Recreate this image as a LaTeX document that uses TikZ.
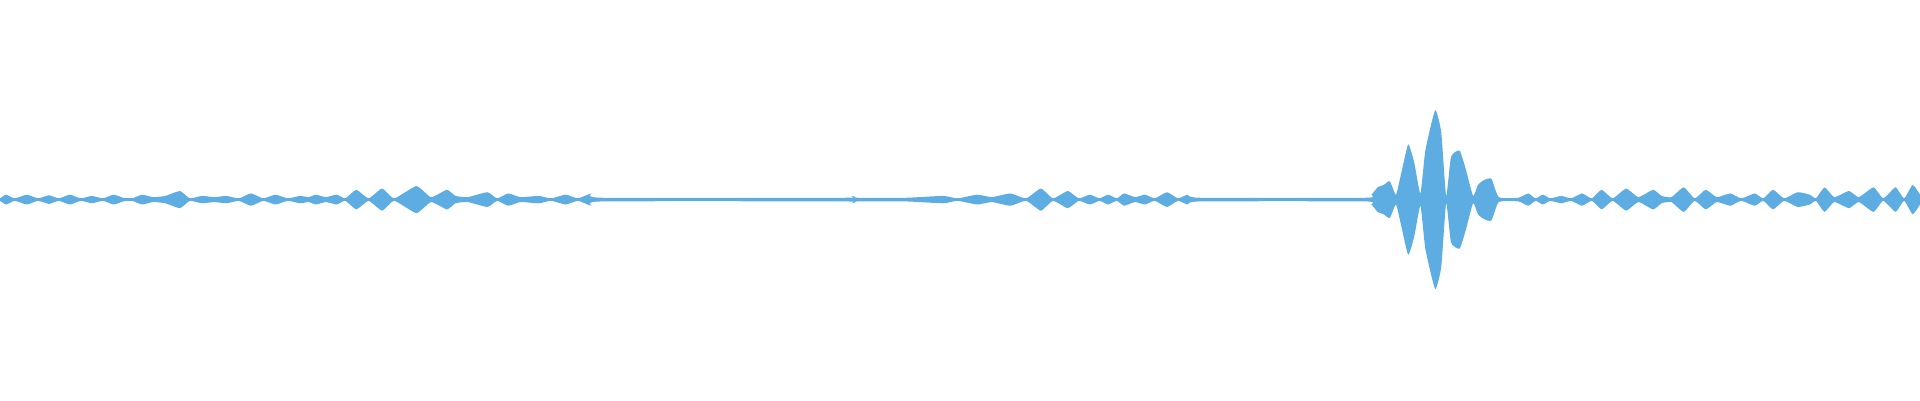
\documentclass[tikz,border=0pt]{standalone}
\begin{document}
\begin{tikzpicture}[x=1pt,y=1pt]
\definecolor{wave}{HTML}{5DADE2}
\useasboundingbox (0,-164) rectangle (1568,163);
\newcommand\envpts{(0,1)(5,4)(12,1)(22,4)(31,1)(40,3.5)(48,1)(57,4)(66,1)(75,3)(84,1)(93,4)(102,1)(108,1)(116,4)(125,2)(135,3)(147,7)(155,1)(165,3)(175,2)(185,3)(195,1)(205,5)(215,1)(225,4)(235,1)(245,3)(252,2)(258,4)(266,2)(275,4)(282,1)(291,8)(301,1)(312,9)(322,1)(340,11)(352,2)(365,8)(372,3)(382,2)(398,6)(406,1)(415,5)(425,2)(440,3)(450,1)(462,4)(472,1)(483,5)(492,1.5)(690,1.5)(695,3)(700,1.5)(740,1.5)(770,3)(782,1)(798,4)(810,2)(825,5)(838,1)(850,9)(860,1)(872,7)(881,1)(890,4)(898,1)(905,4)(912,1)(918,5)(927,2)(935,4)(943,1)(953,6)(962,1)(970,4)(980,1.5)(1115,1.5)(1120,4)(1125,10)(1130,12)(1135,15)(1140,4)(1144,20)(1150,45)(1155,30)(1160,5)(1164,40)(1172,73)(1177,55)(1181,3)(1185,35)(1192,40)(1197,25)(1203,3)(1207,12)(1212,16)(1218,17)(1224,2)(1240,1.5)(1248,5)(1254,1)(1260,4)(1266,1)(1275,3)(1283,1)(1292,5)(1300,1)(1308,8)(1317,1)(1328,9)(1338,2)(1350,8)(1357,3)(1365,2)(1375,10)(1384,1)(1393,8)(1402,2)(1413,5)(1422,1)(1433,5)(1440,1)(1448,8)(1457,1)(1468,6)(1478,4)(1483,1)(1490,10)(1498,2)(1510,7)(1518,2)(1530,10)(1538,1)(1548,10)(1555,1)(1562,12)(1568,4)}
\foreach \s in {1,-1}{
  \begin{scope}[yscale=\s]
  \fill[wave] (0,-1) -- plot[smooth,tension=0.3] coordinates {\envpts} -- (1568,-1) -- cycle;
  \end{scope}
}
\fill[wave] (0,-1.3) rectangle (1568,1.3);
\end{tikzpicture}
\end{document}
